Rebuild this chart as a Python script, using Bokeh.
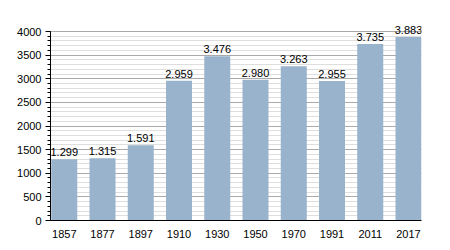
from bokeh.plotting import figure
from bokeh.models import ColumnDataSource, FixedTicker, Range1d
from bokeh.core.properties import value
from bokeh.embed import file_html
from bokeh.resources import INLINE

years = ["1857", "1877", "1897", "1910", "1930", "1950", "1970", "1991", "2011", "2017"]
population = [1299, 1315, 1591, 2959, 3476, 2980, 3263, 2955, 3735, 3883]
y_ticks = [0, 500, 1000, 1500, 2000, 2500, 3000, 3500, 4000]

xs = list(range(len(years)))
labels = [f"{v:,}".replace(",", ".") for v in population]
src = ColumnDataSource(dict(x=xs, top=population, label=labels))

FONT = "Liberation Sans"
minor = list(range(0, 4001, 100))

p = figure(width=450, height=250, output_backend="svg", toolbar_location=None,
           x_range=Range1d(-0.36, 9.34), y_range=Range1d(0, 4360),
           min_border_left=50, min_border_right=29, min_border_top=14, min_border_bottom=30)
p.outline_line_color = None
p.background_fill_color = "white"
p.border_fill_color = "white"

p.vbar(x="x", top="top", width=0.68, bottom=0, source=src,
       fill_color="#99b3cc", line_color=None)
p.text(x="x", y="top", text="label", source=src, text_align="center",
       text_baseline="bottom", y_offset=-3, text_font=value(FONT),
       text_font_size="11px", text_color="black")

p.xgrid.visible = False
p.ygrid.ticker = FixedTicker(ticks=y_ticks, minor_ticks=minor)
p.ygrid.grid_line_color = "#aaaaaa"
p.ygrid.grid_line_width = 1
p.ygrid.minor_grid_line_color = "#dedede"
p.ygrid.minor_grid_line_width = 1

p.yaxis.bounds = (0, 4000)
p.yaxis.ticker = FixedTicker(ticks=y_ticks, minor_ticks=minor)
p.yaxis.major_tick_out = 5
p.yaxis.major_tick_in = 0
p.yaxis.minor_tick_out = 3
p.yaxis.minor_tick_in = 0
p.yaxis.axis_line_color = "black"
p.yaxis.major_tick_line_color = "black"
p.yaxis.minor_tick_line_color = "black"
p.yaxis.major_label_text_font = FONT
p.yaxis.major_label_text_font_size = "11px"
p.yaxis.major_label_text_color = "black"
p.yaxis.major_label_standoff = 4

p.xaxis.ticker = FixedTicker(ticks=xs)
p.xaxis.major_label_overrides = {i: y for i, y in enumerate(years)}
p.xaxis.major_tick_line_color = None
p.xaxis.minor_tick_line_color = None
p.xaxis.axis_line_color = "black"
p.xaxis.major_label_text_font = FONT
p.xaxis.major_label_text_font_size = "11px"
p.xaxis.major_label_text_color = "black"
p.xaxis.major_label_standoff = 3

open("out.html", "w").write(file_html(p, INLINE))
